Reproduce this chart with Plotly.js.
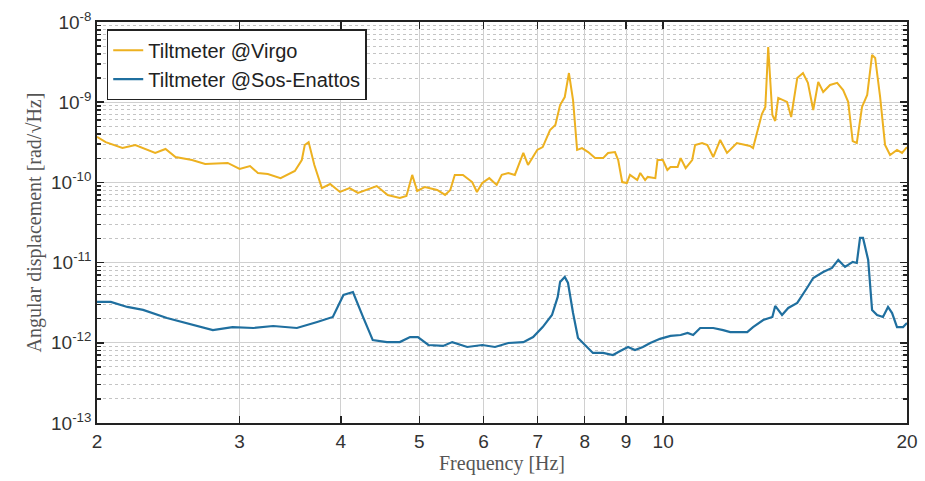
<!DOCTYPE html>
<html>
<head>
<meta charset="utf-8">
<script src="https://cdn.plot.ly/plotly-3.0.1.min.js"></script>
<style>html,body{margin:0;padding:0;background:#fff;}#chart{width:925px;height:481px;}</style>
</head>
<body>
<div id="chart"></div>
<script>
// Tiltmeter @Virgo
const virgoFreq = [2.00,2.05,2.15,2.23,2.36,2.43,2.50,2.62,2.72,2.90,3.00,3.09,3.16,3.25,3.37,3.44,3.51,3.58,3.61,3.65,3.71,3.79,3.88,3.99,4.10,4.20,4.43,4.57,4.73,4.82,4.90,4.97,5.08,5.26,5.38,5.46,5.53,5.66,5.81,5.89,5.98,6.10,6.23,6.32,6.44,6.56,6.72,6.81,6.99,7.10,7.25,7.36,7.46,7.56,7.65,7.74,7.83,7.94,8.08,8.24,8.43,8.55,8.72,8.80,8.90,9.02,9.10,9.29,9.37,9.50,9.57,9.78,9.84,9.99,10.12,10.21,10.42,10.51,10.66,10.86,10.95,11.17,11.34,11.53,11.76,11.99,12.33,12.80,12.91,13.24,13.37,13.48,13.64,13.75,13.87,14.22,14.39,14.64,14.88,15.09,15.32,15.54,15.76,16.07,16.40,16.68,16.92,17.14,17.34,17.60,17.86,18.11,18.27,18.53,18.79,19.06,19.44,19.72,20.00];
const virgoAmp = [3.7e-10,3.18e-10,2.68e-10,2.93e-10,2.33e-10,2.61e-10,2.07e-10,1.90e-10,1.70e-10,1.75e-10,1.47e-10,1.60e-10,1.31e-10,1.27e-10,1.13e-10,1.24e-10,1.39e-10,1.90e-10,2.93e-10,3.18e-10,1.65e-10,8.5e-11,9.55e-11,7.6e-11,8.5e-11,7.4e-11,9.0e-11,6.97e-11,6.4e-11,6.77e-11,1.24e-10,7.81e-11,8.77e-11,8.05e-11,6.97e-11,8.05e-11,1.24e-10,1.24e-10,1.01e-10,7.6e-11,9.83e-11,1.13e-10,9.29e-11,1.24e-10,1.31e-10,1.24e-10,2.33e-10,1.65e-10,2.54e-10,2.76e-10,4.5e-10,5.2e-10,9.22e-10,1.16e-9,2.31e-9,1.06e-9,2.54e-10,2.68e-10,2.39e-10,2.01e-10,2.01e-10,2.33e-10,2.39e-10,1.90e-10,1.01e-10,9.83e-11,1.24e-10,1.07e-10,1.31e-10,1.07e-10,1.17e-10,1.13e-10,1.90e-10,1.90e-10,1.43e-10,1.56e-10,1.56e-10,2.01e-10,1.51e-10,1.90e-10,2.93e-10,3.10e-10,2.93e-10,2.07e-10,3.38e-10,2.33e-10,3.10e-10,2.84e-10,2.68e-10,7.13e-10,8.72e-10,4.88e-9,6.92e-10,5.83e-10,1.13e-9,1.01e-9,6.54e-10,2.0e-9,2.31e-9,1.74e-9,7.99e-10,1.79e-9,1.34e-9,1.64e-9,1.74e-9,1.42e-9,1.01e-9,3.28e-10,3.10e-10,8.72e-10,1.23e-9,3.88e-9,3.56e-9,1.16e-9,2.93e-10,2.20e-10,2.54e-10,2.33e-10,2.76e-10];

// Tiltmeter @Sos-Enattos
const sosFreq = [2.00,2.08,2.18,2.28,2.44,2.63,2.78,2.94,3.12,3.30,3.53,3.74,3.91,4.03,4.14,4.26,4.38,4.56,4.73,4.87,4.98,5.13,5.35,5.49,5.73,5.98,6.20,6.44,6.72,6.91,7.10,7.29,7.41,7.46,7.56,7.63,7.74,7.85,8.05,8.19,8.43,8.67,8.85,9.05,9.23,9.44,9.64,9.91,10.21,10.51,10.72,10.89,11.11,11.53,11.86,12.10,12.70,12.91,13.29,13.64,13.75,14.02,14.27,14.64,15.05,15.32,15.76,16.16,16.45,16.77,17.14,17.34,17.50,17.65,17.91,18.11,18.37,18.68,18.95,19.17,19.44,19.78,20.00];
const sosAmp = [3.23e-12,3.23e-12,2.80e-12,2.57e-12,2.04e-12,1.67e-12,1.44e-12,1.57e-12,1.53e-12,1.62e-12,1.53e-12,1.82e-12,2.10e-12,3.95e-12,4.30e-12,2.10e-12,1.08e-12,1.02e-12,1.02e-12,1.18e-12,1.18e-12,9.39e-13,9.13e-13,1.02e-12,8.87e-13,9.39e-13,8.87e-13,9.94e-13,1.02e-12,1.18e-12,1.57e-12,2.22e-12,3.73e-12,5.74e-12,6.62e-12,5.57e-12,2.35e-12,1.15e-12,8.87e-13,7.47e-13,7.47e-13,7.05e-13,7.91e-13,8.87e-13,8.14e-13,8.87e-13,9.94e-13,1.12e-12,1.22e-12,1.25e-12,1.33e-12,1.25e-12,1.53e-12,1.53e-12,1.44e-12,1.36e-12,1.36e-12,1.57e-12,1.92e-12,2.10e-12,2.88e-12,2.22e-12,2.72e-12,3.14e-12,4.82e-12,6.43e-12,7.63e-12,8.58e-12,1.08e-11,8.83e-12,1.02e-11,9.89e-12,2.03e-11,2.03e-11,1.08e-11,2.57e-12,2.22e-12,2.10e-12,2.80e-12,2.35e-12,1.57e-12,1.57e-12,1.77e-12];

const xTickVals = [2,3,4,5,6,7,8,9,10,20];
const xTickText = ['2','3','4','5','6','7','8','9','10','20'];
const yTickVals = [1e-13,1e-12,1e-11,1e-10,1e-9,1e-8];
const yTickText = ['10<sup>-13</sup>','10<sup>-12</sup>','10<sup>-11</sup>','10<sup>-10</sup>','10<sup>-9</sup>','10<sup>-8</sup>'];
const yMinorVals = [];
for (let k = -13; k < -8; k++) { for (let m = 2; m <= 9; m++) yMinorVals.push(m * Math.pow(10, k)); }

const traces = [
  {x: virgoFreq, y: virgoAmp, type: 'scatter', mode: 'lines', name: 'Tiltmeter @Virgo',
   line: {color: '#EDB120', width: 2}},
  {x: sosFreq, y: sosAmp, type: 'scatter', mode: 'lines', name: 'Tiltmeter @Sos-Enattos',
   line: {color: '#1f6f9f', width: 2.2}}
];

const tickFont = {family: 'Liberation Sans, Arial, sans-serif', size: 19, color: '#333'};
const titleFont = {family: 'Liberation Serif, DejaVu Serif, serif', size: 20, color: '#555'};
const layout = {
  width: 925, height: 481,
  margin: {l: 97, r: 18, t: 22, b: 58},
  paper_bgcolor: '#fff', plot_bgcolor: '#fff',
  showlegend: true,
  legend: {x: 0.012, y: 0.982, xanchor: 'left', yanchor: 'top',
    bgcolor: '#fff', bordercolor: '#222', borderwidth: 1.5,
    font: {family: 'Liberation Sans, Arial, sans-serif', size: 20, color: '#222'},
    tracegroupgap: 0, itemwidth: 30},
  xaxis: {type: 'log', range: [Math.log10(2), Math.log10(20)],
    tickmode: 'array', tickvals: xTickVals, ticktext: xTickText,
    ticks: 'inside', ticklen: 7, tickcolor: '#222', tickwidth: 1.5,
    showgrid: true, gridcolor: '#d0d0d0', gridwidth: 1,
    showline: true, linecolor: '#222', linewidth: 1.8, mirror: 'ticks',
    zeroline: false, tickfont: tickFont,
    title: {text: 'Frequency [Hz]', standoff: 4, font: titleFont}},
  yaxis: {type: 'log', range: [-13, -8],
    tickmode: 'array', tickvals: yTickVals, ticktext: yTickText,
    ticks: 'inside', ticklen: 7, tickcolor: '#222', tickwidth: 1.5,
    showgrid: true, gridcolor: '#d0d0d0', gridwidth: 1,
    showline: true, linecolor: '#222', linewidth: 1.8, mirror: 'ticks',
    zeroline: false, tickfont: tickFont,
    minor: {tickmode: 'array', tickvals: yMinorVals, ticks: 'inside', ticklen: 4,
      tickcolor: '#222', showgrid: true, gridcolor: '#c4c4c4', griddash: 'dot', gridwidth: 1},
    title: {text: 'Angular displacement [rad/\u221AHz]', standoff: 4, font: titleFont}}
};

Plotly.newPlot('chart', traces, layout, {displayModeBar: false, staticPlot: true});
</script>
</body>
</html>
